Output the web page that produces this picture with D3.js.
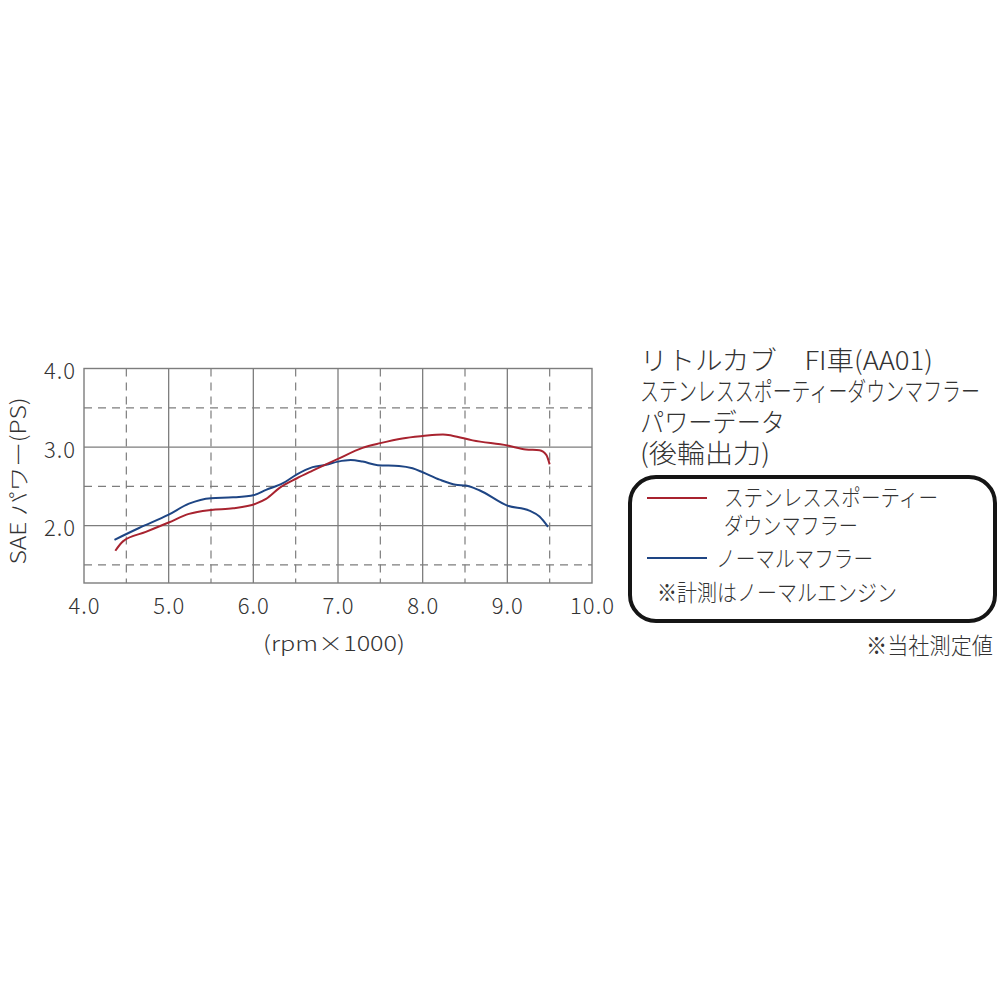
<!DOCTYPE html>
<html>
<head>
<meta charset="utf-8">
<script src="https://cdn.jsdelivr.net/npm/d3@7"></script>
<style>
  html, body { margin: 0; padding: 0; background: #fff; }
  svg { display: block; }
  text { font-family: "Noto Sans CJK JP", "Noto Sans", sans-serif; font-weight: 300; fill: #333; }
</style>
</head>
<body>
<svg id="chart" width="1000" height="1000"></svg>
<script>
// ---- data ----
const rpmTicks = [4, 5, 6, 7, 8, 9, 10];
const rpmTickLabels = ["4.0", "5.0", "6.0", "7.0", "8.0", "9.0", "10.0"];
const powerTicks = [2, 3, 4];
const powerTickLabels = ["2.0", "3.0", "4.0"];
const rpmDashed = [4.5, 5.5, 6.5, 7.5, 8.5, 9.5];
const powerDashed = [1.5, 2.5, 3.5];

const stainlessRpm = [4.37, 4.46, 4.73, 5.0, 5.24, 5.5, 5.76, 6.03, 6.15, 6.31, 6.51, 6.7, 7.0, 7.29, 7.5, 7.76, 8.0, 8.24, 8.35, 8.59, 9.0, 9.22, 9.38, 9.46, 9.5];
const stainlessPower = [1.68, 1.80, 1.92, 2.04, 2.15, 2.20, 2.22, 2.28, 2.34, 2.48, 2.60, 2.70, 2.85, 2.99, 3.05, 3.11, 3.14, 3.16, 3.145, 3.085, 3.02, 2.97, 2.96, 2.90, 2.78];
const normalRpm = [4.36, 4.65, 5.0, 5.24, 5.5, 5.76, 6.01, 6.15, 6.35, 6.51, 6.7, 6.86, 7.0, 7.15, 7.29, 7.47, 7.72, 7.88, 8.0, 8.2, 8.39, 8.51, 8.67, 9.0, 9.26, 9.38, 9.48];
const normalPower = [1.82, 1.97, 2.14, 2.28, 2.35, 2.36, 2.39, 2.455, 2.54, 2.65, 2.745, 2.775, 2.815, 2.835, 2.815, 2.77, 2.76, 2.73, 2.68, 2.585, 2.52, 2.51, 2.45, 2.255, 2.19, 2.115, 1.985];

const titleLines = ["リトルカブ　FI車(AA01)", "ステンレススポーティーダウンマフラー", "パワーデータ", "(後輪出力)"];
const seriesNames = ["ステンレススポーティー", "ダウンマフラー", "ノーマルマフラー"];
const noteText = "※計測はノーマルエンジン";
const footText = "※当社測定値";
const yTitle = "SAE パワー(PS)";
const xTitle = "(rpm×1000)";

// ---- layout ----
const svg = d3.select("#chart");
const pLeft = 84, pRight = 592, pTop = 368.5, pBottom = 583;
const x = d3.scaleLinear().domain([4, 10]).range([pLeft, pRight]);
const y = d3.scaleLinear().domain([1.27, 4.0]).range([pBottom, pTop]);
const gridColor = "#7d7d7d";

const grid = svg.append("g");
// dashed
grid.selectAll(".vd").data(rpmDashed).join("line")
  .attr("x1", d => x(d)).attr("x2", d => x(d)).attr("y1", pTop).attr("y2", pBottom)
  .attr("stroke", gridColor).attr("stroke-width", 1.2).attr("stroke-dasharray", "8,6");
grid.selectAll(".hd").data(powerDashed).join("line")
  .attr("x1", pLeft).attr("x2", pRight).attr("y1", d => y(d)).attr("y2", d => y(d))
  .attr("stroke", gridColor).attr("stroke-width", 1.2).attr("stroke-dasharray", "8,6");
// solid
grid.selectAll(".vs").data(rpmTicks.slice(1, -1)).join("line")
  .attr("x1", d => x(d)).attr("x2", d => x(d)).attr("y1", pTop).attr("y2", pBottom)
  .attr("stroke", gridColor).attr("stroke-width", 1.3);
grid.selectAll(".hs").data([2, 3]).join("line")
  .attr("x1", pLeft).attr("x2", pRight).attr("y1", d => y(d)).attr("y2", d => y(d))
  .attr("stroke", gridColor).attr("stroke-width", 1.3);
grid.append("rect").attr("x", pLeft).attr("y", pTop).attr("width", pRight - pLeft).attr("height", pBottom - pTop)
  .attr("fill", "none").attr("stroke", gridColor).attr("stroke-width", 1.4);

// axes
const xAxis = svg.append("g").attr("transform", `translate(0,${pBottom})`)
  .call(d3.axisBottom(x).tickValues(rpmTicks).tickSize(0).tickFormat((d, i) => rpmTickLabels[i]));
xAxis.select(".domain").remove();
xAxis.selectAll("text").attr("y", 21).attr("dy", null).attr("dominant-baseline", "central")
  .attr("font-size", 22).attr("fill", "#333").style("letter-spacing", "1px");

const yAxis = svg.append("g").attr("transform", `translate(${pLeft},0)`)
  .call(d3.axisLeft(y).tickValues(powerTicks).tickSize(0).tickFormat((d, i) => powerTickLabels[i]));
yAxis.select(".domain").remove();
yAxis.selectAll("text").attr("x", -8).attr("dy", null).attr("dominant-baseline", "central")
  .attr("font-size", 22).attr("fill", "#333").style("letter-spacing", "1px");

svg.append("text").attr("x", 334).attr("y", 642).attr("text-anchor", "middle")
  .attr("dominant-baseline", "central").attr("font-size", 21)
  .attr("textLength", 142).attr("lengthAdjust", "spacingAndGlyphs").text(xTitle);

svg.append("text").attr("transform", "translate(17,481) rotate(-90)").attr("text-anchor", "middle")
  .attr("dominant-baseline", "central").attr("font-size", 21)
  .attr("textLength", 167).attr("lengthAdjust", "spacingAndGlyphs").text(yTitle);

// lines
const line = d3.line().x(d => x(d[0])).y(d => y(d[1])).curve(d3.curveMonotoneX);
const redColor = "#a8232f", blueColor = "#1e4584";
svg.append("path").datum(normalRpm.map((r, i) => [r, normalPower[i]]))
  .attr("d", line).attr("fill", "none").attr("stroke", blueColor).attr("stroke-width", 2);
svg.append("path").datum(stainlessRpm.map((r, i) => [r, stainlessPower[i]]))
  .attr("d", line).attr("fill", "none").attr("stroke", redColor).attr("stroke-width", 2);

// title
const titleY = [358, 389, 420, 451];
const titleLen = [293, 340, 145, 130];
svg.selectAll(".title").data(titleLines).join("text")
  .attr("x", 640).attr("y", (d, i) => titleY[i]).attr("dominant-baseline", "central")
  .attr("font-size", 26).attr("textLength", (d, i) => titleLen[i])
  .attr("lengthAdjust", "spacingAndGlyphs").text(d => d);

// legend box
svg.append("rect").attr("x", 630).attr("y", 477).attr("width", 365).attr("height", 144)
  .attr("rx", 26).attr("fill", "none").attr("stroke", "#151515").attr("stroke-width", 4);
svg.append("line").attr("x1", 647).attr("x2", 707).attr("y1", 498).attr("y2", 498)
  .attr("stroke", redColor).attr("stroke-width", 2);
svg.append("line").attr("x1", 647).attr("x2", 707).attr("y1", 558).attr("y2", 558)
  .attr("stroke", blueColor).attr("stroke-width", 2);

const legTexts = [
  {t: seriesNames[0], x: 724, y: 496, len: 214},
  {t: seriesNames[1], x: 724, y: 524, len: 134},
  {t: seriesNames[2], x: 716, y: 557, len: 157},
  {t: noteText, x: 657, y: 591, len: 240},
  {t: footText, x: 866, y: 644, len: 127}
];
svg.selectAll(".leg").data(legTexts).join("text")
  .attr("x", d => d.x).attr("y", d => d.y).attr("dominant-baseline", "central")
  .attr("font-size", 23).attr("textLength", d => d.len)
  .attr("lengthAdjust", "spacingAndGlyphs").text(d => d.t);
</script>
</body>
</html>
